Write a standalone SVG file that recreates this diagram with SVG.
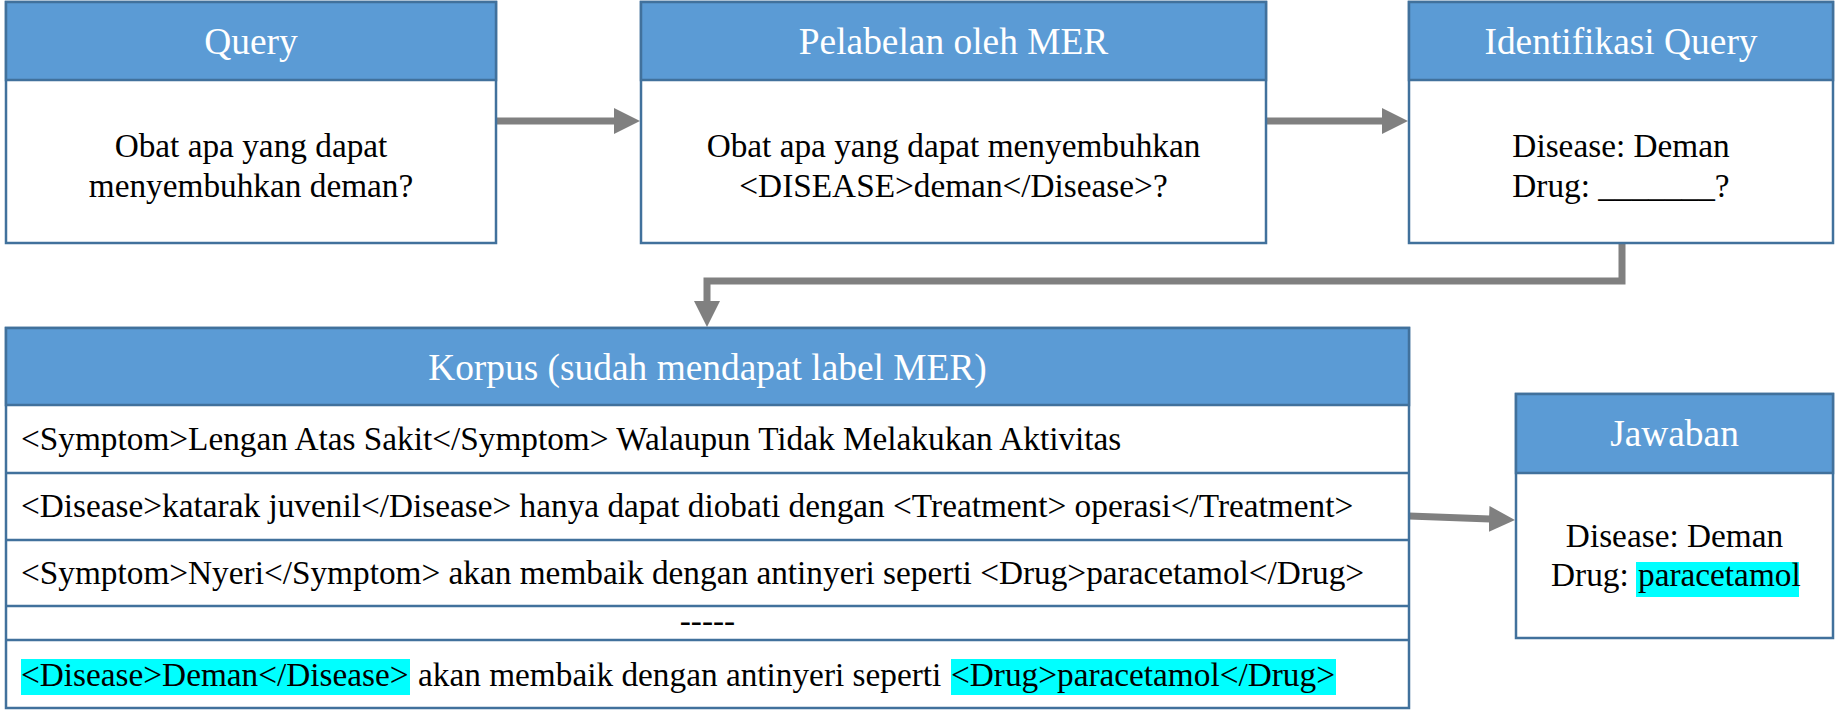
<svg xmlns="http://www.w3.org/2000/svg" width="1835" height="715" viewBox="0 0 1835 715">
<style>
.box{fill:#ffffff;stroke:#41719c;stroke-width:2.5}
.hdr{fill:#5b9bd5;stroke:#41719c;stroke-width:2.5}
.sep{stroke:#41719c;stroke-width:2.5}
.ht{font-family:"Liberation Serif","Times New Roman",serif;font-size:37.4px;fill:#ffffff;text-anchor:middle}
.bt{font-family:"Liberation Serif","Times New Roman",serif;font-size:33.3px;fill:#000000}
.c{text-anchor:middle}
.hl{fill:#00ffff}
.conn{fill:none;stroke:#808080;stroke-width:7}
</style>
<defs>
<marker id="ah" markerUnits="userSpaceOnUse" markerWidth="26" markerHeight="26" refX="1" refY="13" orient="auto">
<path d="M0,0 L26,13 L0,26 z" fill="#808080"/>
</marker>
</defs>
<rect width="1835" height="715" fill="#ffffff"/>

<g id="connectors">
<line class="conn" x1="496" y1="121" x2="615" y2="121" marker-end="url(#ah)"/>
<line class="conn" x1="1266" y1="121" x2="1383" y2="121" marker-end="url(#ah)"/>
<polyline class="conn" points="1622,243 1622,281 707,281 707,302" marker-end="url(#ah)"/>
<line class="conn" x1="1409" y1="516" x2="1490" y2="519" marker-end="url(#ah)"/>
</g>

<g id="query">
<rect class="box" x="6" y="2" width="490" height="241"/>
<rect class="hdr" x="6" y="2" width="490" height="78"/>
<text class="ht" x="251" y="54">Query</text>
<text class="bt c" x="251" y="157">Obat apa yang dapat</text>
<text class="bt c" x="251" y="197">menyembuhkan deman?</text>
</g>

<g id="pelabelan">
<rect class="box" x="641" y="2" width="625" height="241"/>
<rect class="hdr" x="641" y="2" width="625" height="78"/>
<text class="ht" x="953.5" y="54">Pelabelan oleh MER</text>
<text class="bt c" x="953.5" y="157">Obat apa yang dapat menyembuhkan</text>
<text class="bt c" x="953.5" y="197">&lt;DISEASE&gt;deman&lt;/Disease&gt;?</text>
</g>

<g id="identifikasi">
<rect class="box" x="1409" y="2" width="424" height="241"/>
<rect class="hdr" x="1409" y="2" width="424" height="78"/>
<text class="ht" x="1621" y="54">Identifikasi Query</text>
<text class="bt c" x="1621" y="157">Disease: Deman</text>
<text class="bt c" x="1621" y="197">Drug: _______?</text>
</g>

<g id="korpus">
<rect class="box" x="6" y="328" width="1403" height="380"/>
<rect class="hdr" x="6" y="328" width="1403" height="77"/>
<text class="ht" x="707.5" y="380">Korpus (sudah mendapat label MER)</text>
<line class="sep" x1="6" y1="473" x2="1409" y2="473"/>
<line class="sep" x1="6" y1="540" x2="1409" y2="540"/>
<line class="sep" x1="6" y1="606" x2="1409" y2="606"/>
<line class="sep" x1="6" y1="640" x2="1409" y2="640"/>
<text class="bt" x="21" y="450">&lt;Symptom&gt;Lengan Atas Sakit&lt;/Symptom&gt; Walaupun Tidak Melakukan Aktivitas</text>
<text class="bt" x="21" y="517">&lt;Disease&gt;katarak juvenil&lt;/Disease&gt; hanya dapat diobati dengan &lt;Treatment&gt; operasi&lt;/Treatment&gt;</text>
<text class="bt" x="21" y="584">&lt;Symptom&gt;Nyeri&lt;/Symptom&gt; akan membaik dengan antinyeri seperti &lt;Drug&gt;paracetamol&lt;/Drug&gt;</text>
<text class="bt c" x="707.5" y="632">-----</text>
<rect class="hl" x="21" y="659" width="389" height="36"/>
<rect class="hl" x="951" y="659" width="385" height="36"/>
<text class="bt" x="21" y="686">&lt;Disease&gt;Deman&lt;/Disease&gt;</text>
<text class="bt" x="418" y="686">akan membaik dengan antinyeri seperti</text>
<text class="bt" x="951" y="686">&lt;Drug&gt;paracetamol&lt;/Drug&gt;</text>
</g>

<g id="jawaban">
<rect class="box" x="1516" y="394" width="317" height="244"/>
<rect class="hdr" x="1516" y="394" width="317" height="79"/>
<text class="ht" x="1674.5" y="446">Jawaban</text>
<text class="bt c" x="1674.5" y="547">Disease: Deman</text>
<rect class="hl" x="1636" y="562" width="163" height="35"/>
<text class="bt" x="1551" y="586">Drug: <tspan x="1638">paracetamol</tspan></text>
</g>
</svg>
